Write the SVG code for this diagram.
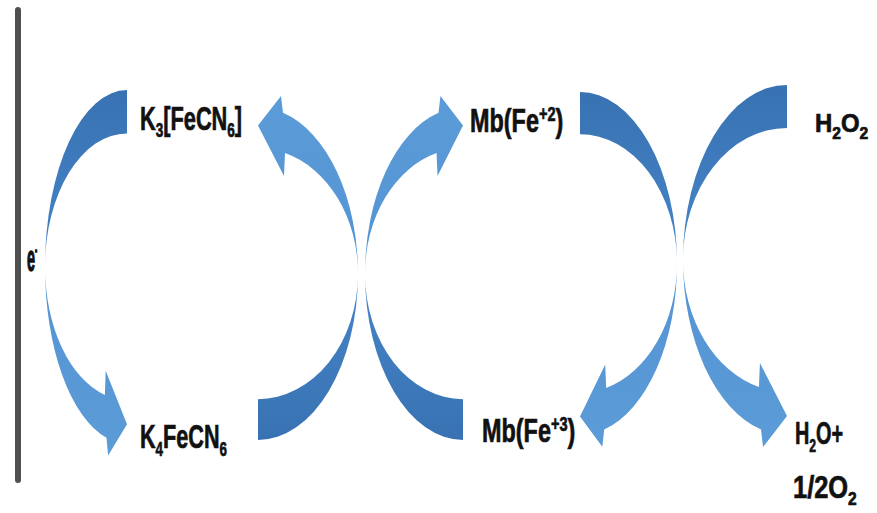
<svg xmlns="http://www.w3.org/2000/svg" width="877" height="513" viewBox="0 0 877 513">
  <style>
    .t { font-family: "Liberation Sans", Arial, sans-serif; font-weight: bold; fill: #111; stroke: #111; stroke-width: 0.7; }
    .arrow { fill: url(#g); }
  </style>
  <defs>
    <linearGradient id="g" x1="0" y1="0" x2="0" y2="1">
      <stop offset="0" stop-color="#3872b2"/>
      <stop offset="0.4" stop-color="#4482c5"/>
      <stop offset="0.55" stop-color="#5595d4"/>
      <stop offset="1" stop-color="#5b9bd7"/>
    </linearGradient>
    <path id="ca" d="M0 0 A100 175 0 0 0 -100 175 A100 175 0 0 0 -25 344.4 L-23 362 L0 331 L-26 278 L-27 302 A100 132 0 0 1 -100 175 A100 132 0 0 1 0 43 Z"/>
  </defs>
  <rect width="877" height="513" fill="#fff"/>

  <g id="electrode">
    <rect x="15" y="7" width="6" height="476" rx="3" fill="#4f4f4f"/>
    <text class="t" transform="translate(27,271) scale(0.8,2)" font-size="18" fill="#333" stroke-width="0.3">e<tspan font-size="8" dy="-8">-</tspan></text>
  </g>

  <g id="connectors">
    <use href="#ca" class="arrow" transform="translate(127,90) scale(0.82,1.01)"/>
    <use href="#ca" class="arrow" transform="translate(258,440) scale(-1,-0.95)"/>
    <use href="#ca" class="arrow" transform="translate(463,440) scale(0.98,-0.95)"/>
    <use href="#ca" class="arrow" transform="translate(580,92) scale(-0.97,0.98)"/>
    <use href="#ca" class="arrow" transform="translate(787,85) scale(1.04,1)"/>
  </g>

  <g id="k3fecn6">
    <text class="t" font-size="33" transform="translate(140,130) scale(0.66,1)">K<tspan font-size="20.5" dy="7">3</tspan><tspan dy="-7">[FeCN</tspan><tspan font-size="20.5" dy="7">6</tspan><tspan dy="-7">]</tspan></text>
  </g>
  <g id="k4fecn6">
    <text class="t" font-size="33" transform="translate(140,448) scale(0.655,1)">K<tspan font-size="20.5" dy="8">4</tspan><tspan dy="-8">FeCN</tspan><tspan font-size="20.5" dy="8">6</tspan></text>
  </g>
  <g id="mb-fe2">
    <text class="t" font-size="33" transform="translate(470,132) scale(0.71,1)">Mb(Fe<tspan font-size="20.5" dy="-11">+2</tspan><tspan dy="11">)</tspan></text>
  </g>
  <g id="mb-fe3">
    <text class="t" font-size="33" transform="translate(482,442) scale(0.71,1)">Mb(Fe<tspan font-size="20.5" dy="-11">+3</tspan><tspan dy="11">)</tspan></text>
  </g>
  <g id="h2o2">
    <text class="t" font-size="26" transform="translate(815,132) scale(0.92,1)">H<tspan font-size="17" dy="7">2</tspan><tspan dy="-7">O</tspan><tspan font-size="17" dy="7">2</tspan></text>
  </g>
  <g id="h2o-o2">
    <text class="t" font-size="31" transform="translate(795,444) scale(0.64,1)">H<tspan font-size="19" dy="8">2</tspan><tspan dy="-8">O+</tspan></text>
    <text class="t" font-size="31" transform="translate(793,498) scale(0.82,1)">1/2O<tspan font-size="19" dy="7">2</tspan></text>
  </g>
</svg>
